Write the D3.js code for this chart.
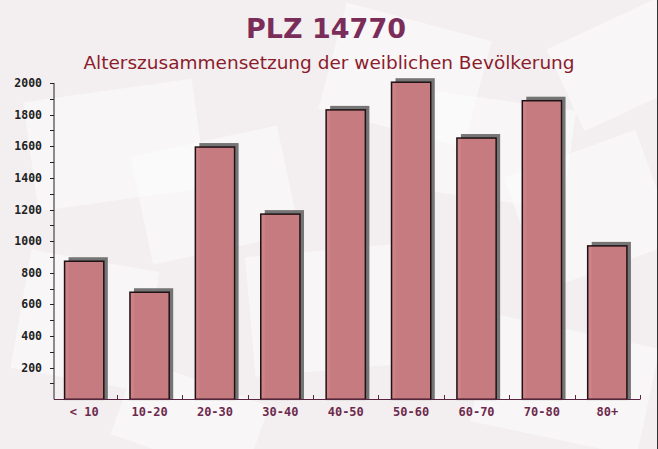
<!DOCTYPE html>
<html><head><meta charset="utf-8">
<script src="https://cdn.jsdelivr.net/npm/d3@7"></script>
<style>html,body{margin:0;padding:0;background:#f4f0f1;}svg{display:block;}</style>
</head><body>
<script>
const categories = ["< 10","10-20","20-30","30-40","40-50","50-60","60-70","70-80","80+"];
const values = [873, 677, 1595, 1171, 1830, 2005, 1652, 1888, 970];
const yTicksMajor = [200,400,600,800,1000,1200,1400,1600,1800,2000];
const titleText = "PLZ 14770";
const subtitleText = "Alterszusammensetzung der weiblichen Bevölkerung";

const W = 658, H = 449;
const svg = d3.select("body").append("svg").attr("width", W).attr("height", H);

// background
svg.append("rect").attr("width", W).attr("height", H).attr("fill", "#f3eff0");
const deco = svg.append("g");
const shapes = [
  [30,90,170,110,-8],[330,20,150,110,15],[140,140,150,110,-12],[420,100,150,100,8],
  [520,150,140,120,-20],[20,260,130,120,10],[250,250,160,120,-5],[480,330,170,110,12],
  [560,20,120,90,-25],[120,380,140,80,20]
];
shapes.forEach(s=>{
  deco.append("rect").attr("x",s[0]).attr("y",s[1]).attr("width",s[2]).attr("height",s[3])
    .attr("transform",`rotate(${s[4]},${s[0]+s[2]/2},${s[1]+s[3]/2})`)
    .attr("fill","#ffffff").attr("opacity",0.45);
});
svg.append("line").attr("x1",W-0.5).attr("x2",W-0.5).attr("y1",0).attr("y2",H).attr("stroke","#333").attr("stroke-width",1);

const x = d3.scaleBand().domain(categories).range([51.5, 640]).paddingInner(0.4).paddingOuter(0.2);
const y = d3.scaleLinear().domain([0, 2000]).range([399.3, 83]);

// title
svg.append("text").attr("x", 326).attr("y", 38).attr("text-anchor","middle")
  .attr("font-family","'DejaVu Sans', Verdana, sans-serif").attr("font-weight","bold")
  .attr("font-size",27).attr("fill","#7b2d5a").text(titleText);
svg.append("text").attr("x", 329).attr("y", 69).attr("text-anchor","middle")
  .attr("font-family","'DejaVu Sans', Verdana, sans-serif")
  .attr("font-size",18.5).attr("fill","#8b1c2c").text(subtitleText);

// bars
const bw = x.bandwidth();
const g = svg.append("g");
const off = 4;
g.selectAll(".shadow").data(values).join("rect")
  .attr("x",(d,i)=>x(categories[i])+off).attr("y",d=>y(d)-off)
  .attr("width",bw).attr("height",d=>y(0)-y(d)+off)
  .attr("fill","#555555").attr("opacity",0.8);
g.selectAll(".bar").data(values).join("rect")
  .attr("x",(d,i)=>x(categories[i])).attr("y",d=>y(d))
  .attr("width",bw).attr("height",d=>y(0)-y(d))
  .attr("fill","#c97b80").attr("fill-opacity",0.95)
  .attr("stroke","#1e1214").attr("stroke-width",1.5);

// y axis
const yAxisX = 54;
const minorTicks = d3.range(100, 2001, 100);
const ya = svg.append("g");
ya.append("line").attr("x1",yAxisX).attr("x2",yAxisX).attr("y1",y(2000)).attr("y2",y(0)).attr("stroke","#222").attr("stroke-width",1);
ya.selectAll(".t").data(minorTicks).join("line")
  .attr("x1",yAxisX-4).attr("x2",yAxisX).attr("y1",d=>Math.round(y(d))+0.5).attr("y2",d=>Math.round(y(d))+0.5)
  .attr("stroke","#222").attr("stroke-width",1);
ya.selectAll(".l").data(yTicksMajor).join("text")
  .attr("x",42).attr("y",d=>y(d)).attr("dy","0.35em").attr("text-anchor","end")
  .attr("font-family","'DejaVu Sans Mono', monospace").attr("font-weight","bold")
  .attr("font-size",11.5).attr("fill","#222").text(d=>d);

// x axis
const xa = svg.append("g");
xa.append("line").attr("x1",yAxisX).attr("x2",640).attr("y1",399.5).attr("y2",399.5).attr("stroke","#5a2340").attr("stroke-width",1.2);
const bounds = categories.map(c=>x(c)-x.step()*x.paddingInner()/2 + x.step());
xa.selectAll(".bt").data(bounds).join("line")
  .attr("x1",d=>Math.round(d)+0.5).attr("x2",d=>Math.round(d)+0.5).attr("y1",395).attr("y2",399.5)
  .attr("stroke","#5a2340").attr("stroke-width",1);
xa.selectAll(".xl").data(categories).join("text")
  .attr("x",c=>x(c)+bw/2).attr("y",412).attr("dy","0.35em").attr("text-anchor","middle")
  .attr("font-family","'DejaVu Sans Mono', monospace").attr("font-weight","bold")
  .attr("font-size",12).attr("fill","#6d2a4d").text(c=>c);
</script>
</body></html>
